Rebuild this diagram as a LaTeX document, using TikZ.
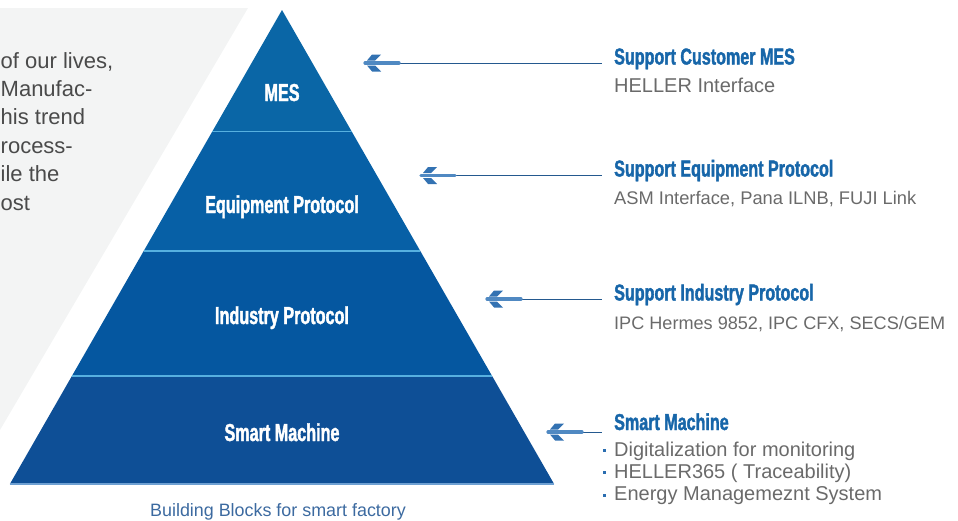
\documentclass[tikz,border=0pt]{standalone}
\usepackage{fontspec}
\setmainfont{Liberation Sans}
\newfontfamily\headfont[FakeStretch=0.70,FakeBold=1.6]{Liberation Sans}
\newfontfamily\pyrfont[FakeStretch=0.66,FakeBold=1.6]{Liberation Sans}
\definecolor{bggray}{HTML}{F3F4F4}
\definecolor{bandA}{HTML}{0A66A6}
\definecolor{bandB}{HTML}{0760A6}
\definecolor{bandC}{HTML}{0557A0}
\definecolor{bandD}{HTML}{0E4F96}
\definecolor{divcol}{HTML}{56B0E0}
\definecolor{basecol}{HTML}{6EA0D2}
\definecolor{headcol}{HTML}{1766A9}
\definecolor{bodycol}{HTML}{6A6A6A}
\definecolor{paracol}{HTML}{4A4A4A}
\definecolor{capcol}{HTML}{3C6AA0}
\definecolor{linecol}{HTML}{24598F}
\definecolor{barcol}{HTML}{5089C2}
\definecolor{wingcol}{HTML}{3372B2}
\definecolor{bulletcol}{HTML}{2A6DB0}
\tikzset{
  head/.style={inner sep=0pt, anchor=base west, text=headcol, font=\headfont\bfseries\fontsize{23}{27}\selectfont},
  body/.style={inner sep=0pt, anchor=base west, text=bodycol},
  para/.style={inner sep=0pt, anchor=base west, text=paracol, font=\fontsize{22}{26}\selectfont},
  pyrlabel/.style={inner sep=0pt, anchor=base, text=white, font=\pyrfont\bfseries\fontsize{24.5}{28}\selectfont},
  thinln/.style={draw=linecol, line width=1pt, shorten >=12pt},
  divline/.style={draw=divcol, line width=1.6pt},
  fletch/.pic={
    \draw[barcol, line width=3.2pt, line cap=round] (0,0) -- (34,0);
    \fill[wingcol] (2,-2.5) -- (10,-2.5) -- (16,-8.5) -- (7,-8.5) -- cycle;
    \fill[wingcol] (2,2.5) -- (10,2.5) -- (16,8.5) -- (7,8.5) -- cycle;
  }
}
\begin{document}
\begin{tikzpicture}[x=1pt,y=-1pt]
\useasboundingbox (0,0) rectangle (958,520);
% background panel
\fill[bggray] (0,8) -- (248,8) -- (0,430) -- cycle;
% paragraph fragment
\node[para] (p1) at (0.5,68) {of our lives,};
\node[para] (p2) at (0.5,96) {Manufac-};
\node[para] (p3) at (0.5,124) {his trend};
\node[para] (p4) at (0.5,153) {rocess-};
\node[para] (p5) at (0.5,181) {ile the};
\node[para] (p6) at (0.5,210) {ost};
% pyramid
\coordinate (A) at (282,10);
\coordinate (L1) at (212.3,131.5); \coordinate (R1) at (351.7,131.5);
\coordinate (L2) at (143.7,251);   \coordinate (R2) at (420.3,251);
\coordinate (L3) at (71.9,376);    \coordinate (R3) at (492.1,376);
\coordinate (L4) at (9.9,484);     \coordinate (R4) at (554.1,484);
\fill[bandA] (A) -- (R1) -- (L1) -- cycle;
\fill[bandB] (L1) -- (R1) -- (R2) -- (L2) -- cycle;
\fill[bandC] (L2) -- (R2) -- (R3) -- (L3) -- cycle;
\fill[bandD] (L3) -- (R3) -- (R4) -- (L4) -- cycle;
\draw[divline] (L1) -- (R1);
\draw[divline] (L2) -- (R2);
\draw[divline] (L3) -- (R3);
\draw[basecol, line width=1.4pt] (L4) -- (R4);
\node[pyrlabel] (lmes) at (282,101) {MES};
\node[pyrlabel] (lequ) at (282,213) {Equipment Protocol};
\node[pyrlabel] (lind) at (282,324) {Industry Protocol};
\node[pyrlabel] (lsma) at (282,441) {Smart Machine};
% right-hand texts
\node[head] (h1) at (614,64.5) {Support Customer MES};
\node[body, font=\fontsize{20}{24}\selectfont] (s1) at (614,92) {HELLER Interface};
\node[head] (h2) at (614,176.5) {Support Equipment Protocol};
\node[body, font=\fontsize{18.3}{22}\selectfont] (s2) at (614,204) {ASM Interface, Pana ILNB, FUJI Link};
\node[head] (h3) at (614,300.5) {Support Industry Protocol};
\node[body, font=\fontsize{18.1}{22}\selectfont] (s3) at (614,329) {IPC Hermes 9852, IPC CFX, SECS/GEM};
\node[head] (h4) at (614,430) {Smart Machine};
\node[body, font=\fontsize{20}{24}\selectfont] (b1) at (614,456) {Digitalization for monitoring};
\node[body, font=\fontsize{20}{24}\selectfont] (b2) at (614,478) {HELLER365 ( Traceability)};
\node[body, font=\fontsize{20}{24}\selectfont] (b3) at (614,500) {Energy Managemeznt System};
\fill[bulletcol] (603,449) rectangle ++(3.2,3.2);
\fill[bulletcol] (603,471) rectangle ++(3.2,3.2);
\fill[bulletcol] (603,493.5) rectangle ++(3.2,3.2);
% connectors
\coordinate (t1) at (365,63);
\coordinate (t2) at (421,175.5);
\coordinate (t3) at (487,299);
\coordinate (t4) at (548,432);
\draw[thinln] (t1) -- (t1 -| h1.west);
\draw[thinln] (t2) -- (t2 -| h2.west);
\draw[thinln] (t3) -- (t3 -| h3.west);
\draw[thinln] (t4) -- (t4 -| h4.west);
\pic at (t1) {fletch};
\pic at (t2) {fletch};
\pic at (t3) {fletch};
\pic at (t4) {fletch};
% caption
\node[inner sep=0pt, anchor=base, text=capcol, font=\fontsize{17.9}{21}\selectfont] (cap) at (278,516) {Building Blocks for smart factory};
\end{tikzpicture}
\end{document}
